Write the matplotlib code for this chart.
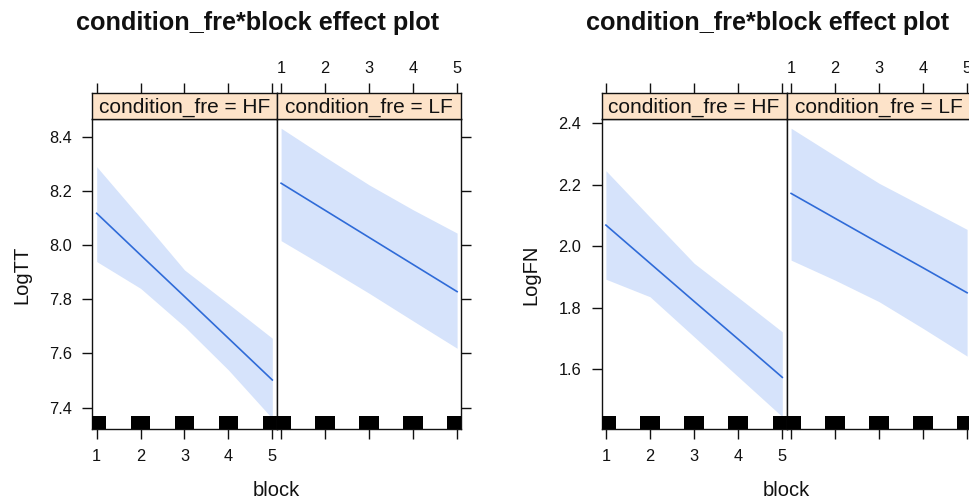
import matplotlib
matplotlib.use("Agg")
import matplotlib.pyplot as plt
import matplotlib.transforms as mtransforms
from matplotlib.patches import Rectangle

plt.rcParams['font.family'] = ['Liberation Sans', 'DejaVu Sans']

# データ
blocks = [1, 2, 3, 4, 5]
levels = ['HF', 'LF']

logtt_hf_fit = [8.117, 7.963, 7.810, 7.656, 7.502]
logtt_hf_lower = [7.939, 7.840, 7.699, 7.539, 7.360]
logtt_hf_upper = [8.289, 8.100, 7.908, 7.783, 7.656]
logtt_lf_fit = [8.228, 8.128, 8.028, 7.928, 7.828]
logtt_lf_lower = [8.016, 7.920, 7.822, 7.720, 7.619]
logtt_lf_upper = [8.431, 8.325, 8.222, 8.130, 8.044]

logfn_hf_fit = [2.069, 1.945, 1.821, 1.698, 1.574]
logfn_hf_lower = [1.893, 1.836, 1.706, 1.576, 1.446]
logfn_hf_upper = [2.246, 2.095, 1.945, 1.834, 1.722]
logfn_lf_fit = [2.172, 2.091, 2.010, 1.930, 1.849]
logfn_lf_lower = [1.955, 1.890, 1.820, 1.733, 1.643]
logfn_lf_upper = [2.384, 2.294, 2.205, 2.130, 2.055]

logtt_ticks = [7.4, 7.6, 7.8, 8.0, 8.2, 8.4]
logfn_ticks = [1.6, 1.8, 2.0, 2.2, 2.4]

title = 'condition_fre*block effect plot'

W, H = 970, 501
fig = plt.figure(figsize=(W / 100, H / 100), dpi=100)

line_col = '#2f6bd8'
band_col = '#d6e3fb'
strip_col = '#fde3c9'
ink = '#111111'


def rect(x0, x1, y0, y1):
    # ピクセル座標 -> figure座標
    return [x0 / W, 1 - y1 / H, (x1 - x0) / W, (y1 - y0) / H]


def effect_plot(xs, ylabel, ylim, yticks, fits, lowers, uppers, title_x, ylab_x, xlab_x):
    top, bottom, strip_top = 119, 429.3, 93.3
    for i, lev in enumerate(levels):
        x0, x1 = xs[i], xs[i + 1]
        ax = fig.add_axes(rect(x0, x1, top, bottom))
        ax.fill_between(blocks, lowers[i], uppers[i], color=band_col, lw=0, zorder=1)
        ax.plot(blocks, fits[i], color=line_col, lw=1.2, zorder=2)
        # ラグ
        trans = mtransforms.blended_transform_factory(ax.transData, ax.transAxes)
        for b in blocks:
            ax.add_patch(Rectangle((b - 0.22, 0), 0.44, 0.043, transform=trans,
                                   color='black', lw=0, zorder=3, clip_on=True))
        ax.set_xlim(0.9, 5.1)
        ax.set_ylim(*ylim)
        ax.set_xticks(blocks)
        ax.set_yticks(yticks)
        ax.tick_params(direction='out', length=7.5, width=1.0, color=ink,
                       labelsize=11.8, labelcolor=ink, pad=7)
        ax.tick_params(axis='x', bottom=True, labelbottom=(i == 0), top=False)
        if i == 0:
            ax.tick_params(axis='y', left=True, labelleft=True, right=False)
            ax.set_yticklabels([f'{v:.1f}' for v in yticks])
        else:
            ax.tick_params(axis='y', left=False, labelleft=False, right=True, labelright=False)
        for s in ax.spines.values():
            s.set_linewidth(1.0)
            s.set_color(ink)

        # ストリップ
        sx = fig.add_axes(rect(x0, x1, strip_top, top))
        sx.set_facecolor(strip_col)
        sx.set_xlim(0.9, 5.1)
        sx.set_ylim(0, 1)
        sx.set_yticks([])
        sx.set_xticks(blocks)
        sx.tick_params(axis='x', bottom=False, labelbottom=False, top=True,
                       labeltop=(i == 1), direction='out', length=7.5, width=1.0,
                       color=ink, labelsize=11.8, labelcolor=ink, pad=5)
        for s in sx.spines.values():
            s.set_linewidth(1.0)
            s.set_color(ink)
        sx.text(0.5, 0.45, f'condition_fre = {lev}', transform=sx.transAxes,
                ha='center', va='center', fontsize=15, color=ink)

    fig.text(title_x / W, 1 - 23 / H, title, ha='center', va='center',
             fontsize=18.2, fontweight='bold', color=ink)
    fig.text(ylab_x / W, 1 - 275 / H, ylabel, ha='center', va='center',
             rotation=90, fontsize=14.5, color=ink)
    fig.text(xlab_x / W, 1 - 490 / H, 'block', ha='center', va='center',
             fontsize=14.5, color=ink)


effect_plot([92.3, 276.7, 461.5], 'LogTT', (7.32, 8.465), logtt_ticks,
            [logtt_hf_fit, logtt_lf_fit], [logtt_hf_lower, logtt_lf_lower],
            [logtt_hf_upper, logtt_lf_upper], 257.5, 22, 276.7)
effect_plot([601.5, 786.7, 971.5], 'LogFN', (1.405, 2.414), logfn_ticks,
            [logfn_hf_fit, logfn_lf_fit], [logfn_hf_lower, logfn_lf_lower],
            [logfn_hf_upper, logfn_lf_upper], 767.5, 531, 786)

fig.savefig('out.png', dpi=100)
plt.close(fig)
